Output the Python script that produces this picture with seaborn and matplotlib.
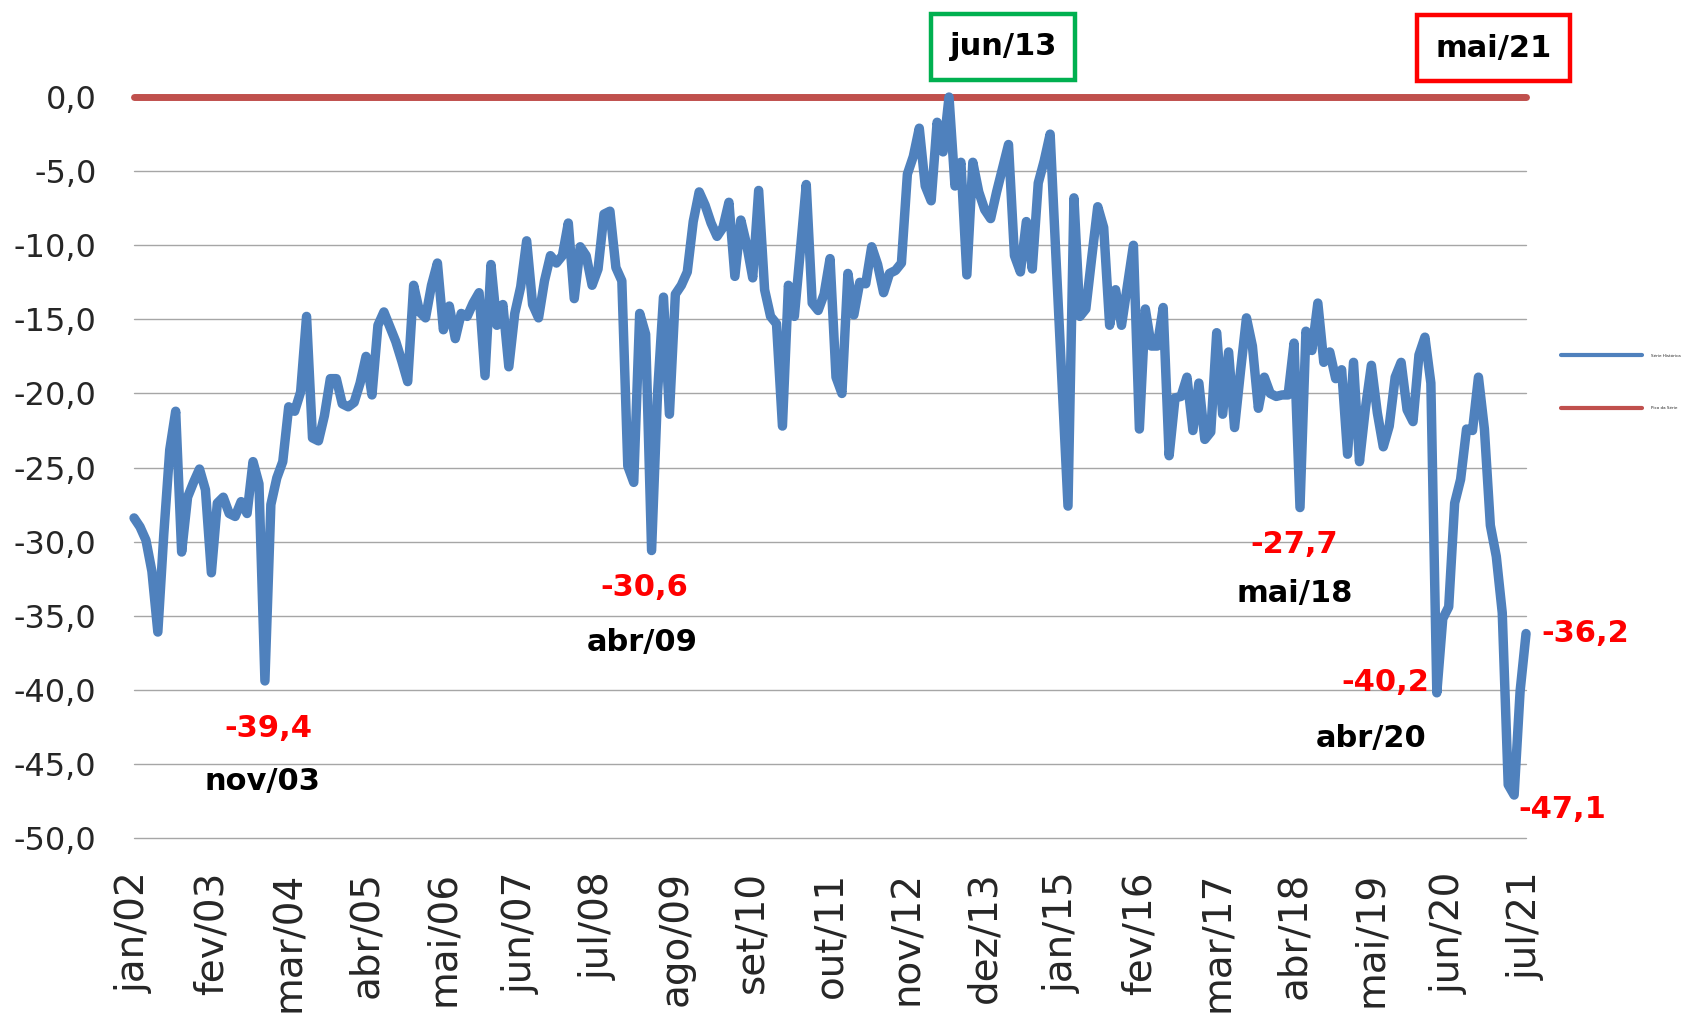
import numpy as np
import pandas as pd
import seaborn as sns
import matplotlib.pyplot as plt

# monthly series jan/02 .. jul/21
serie = [
    -28.4, -29.0, -29.9, -32.0, -36.1, -29.5, -23.8, -21.2, -30.7, -27.0,
    -26.0, -25.1, -26.5, -32.1, -27.4, -27.0, -28.1, -28.3, -27.3, -28.1,
    -24.6, -26.1, -39.4, -27.5, -25.7, -24.6, -20.9, -21.2, -19.9, -14.8,
    -23.0, -23.2, -21.5, -19.0, -19.0, -20.7, -20.9, -20.6, -19.3, -17.5,
    -20.1, -15.4, -14.5, -15.5, -16.5, -17.8, -19.2, -12.7, -14.5, -14.9,
    -12.7, -11.2, -15.7, -14.1, -16.3, -14.6, -14.8, -13.9, -13.2, -18.8,
    -11.3, -15.4, -14.0, -18.2, -14.6, -12.8, -9.7, -14.0, -14.9, -12.4,
    -10.7, -11.2, -10.7, -8.5, -13.6, -10.1, -10.7, -12.7, -11.6, -7.9,
    -7.7, -11.5, -12.4, -24.9, -26.0, -14.6, -16.0, -30.6, -20.0, -13.5,
    -21.4, -13.3, -12.7, -11.8, -8.4, -6.4, -7.3, -8.5, -9.4, -8.8,
    -7.1, -12.1, -8.3, -10.0, -12.2, -6.3, -13.0, -14.8, -15.3, -22.2,
    -12.7, -14.8, -10.4, -5.9, -13.9, -14.4, -13.3, -10.9, -18.9, -20.0,
    -11.9, -14.7, -12.5, -12.6, -10.1, -11.3, -13.2, -11.9, -11.7, -11.2,
    -5.2, -4.0, -2.1, -6.0, -7.0, -1.7, -3.7, 0.0, -6.0, -4.4,
    -12.0, -4.4, -6.4, -7.6, -8.2, -6.4, -4.8, -3.2, -10.7, -11.8,
    -8.4, -11.6, -5.8, -4.3, -2.5, -11.0, -19.3, -27.6, -6.8, -14.8,
    -14.3, -10.8, -7.4, -8.8, -15.4, -13.0, -15.4, -12.7, -10.0, -22.4,
    -14.3, -16.8, -16.8, -14.2, -24.2, -20.3, -20.2, -18.9, -22.5, -19.3,
    -23.1, -22.6, -15.9, -21.4, -17.2, -22.3, -18.5, -14.9, -16.8, -21.0,
    -18.9, -20.0, -20.2, -20.1, -20.1, -16.6, -27.7, -15.8, -17.1, -13.9,
    -17.9, -17.2, -19.0, -18.4, -24.1, -17.9, -24.6, -21.0, -18.1, -21.3,
    -23.6, -22.2, -18.9, -17.9, -21.1, -21.9, -17.4, -16.2, -19.3, -40.2,
    -35.2, -34.4, -27.4, -25.8, -22.4, -22.5, -18.9, -22.4, -28.9, -31.0,
    -34.8, -46.4, -47.1, -40.1, -36.2,
]
meses = ['jan', 'fev', 'mar', 'abr', 'mai', 'jun',
         'jul', 'ago', 'set', 'out', 'nov', 'dez']
datas = pd.date_range('2002-01-01', periods=len(serie), freq='MS')
rotulos = [f'{meses[d.month - 1]}/{d.year % 100:02d}' for d in datas]
pico = [0.0] * len(serie)

# annotations: (text, x month index, y value, colour)
notas = [
    ('-39,4', 22.6, -42.6, 'red'), ('nov/03', 21.5, -46.2, 'black'),
    ('-30,6', 85.8, -33.1, 'red'), ('abr/09', 85.5, -36.8, 'black'),
    ('-27,7', 195.0, -30.2, 'red'), ('mai/18', 195.1, -33.5, 'black'),
    ('-40,2', 210.4, -39.5, 'red'), ('abr/20', 207.9, -43.3, 'black'),
    ('-36,2', 243.9, -36.2, 'red'), ('-47,1', 240.1, -48.1, 'red'),
]
caixas = [('jun/13', 146.1, 3.4, '#00B050'), ('mai/21', 228.5, 3.3, '#FF0000')]

df = pd.DataFrame({'t': np.arange(len(serie)), 'serie': serie, 'pico': pico})

sns.set_theme(style='white')
plt.rcParams['font.family'] = ['DejaVu Sans']

fig = plt.figure(figsize=(16.84, 10.24), dpi=100)
ax = fig.add_axes([0.0796, 0.1816, 0.8266, 0.7236])

# grid
for v in range(-5, -55, -5):
    ax.axhline(v, color='#A6A6A6', lw=1.0, zorder=0, clip_on=False)

sns.lineplot(data=df, x='t', y='pico', ax=ax, color='#C0504D', lw=5,
             label='Pico da Série', clip_on=False, zorder=2)
sns.lineplot(data=df, x='t', y='serie', ax=ax, color='#4F81BD', lw=6.8,
             label='Série Histórica', clip_on=False, zorder=3,
             solid_joinstyle='round')

ax.set_xlim(0, len(serie) - 1)
ax.set_ylim(-50, 0)
ax.set_xlabel('')
ax.set_ylabel('')
for s in ax.spines.values():
    s.set_visible(False)

ticks = np.arange(0, len(serie), 13)
ax.set_xticks(ticks)
ax.set_xticklabels([rotulos[i] for i in ticks], rotation=90, fontsize=28)
ax.set_yticks(np.arange(0, -55, -5))
ax.set_yticklabels([f'{v:.1f}'.replace('.', ',') for v in np.arange(0, -55, -5)],
                   fontsize=23)
ax.tick_params(axis='x', length=0, pad=24)
ax.tick_params(axis='y', length=0, pad=27)

for txt, x, y, c in notas:
    ax.text(x, y, txt, color=c, fontsize=22, fontweight='bold',
            ha='center', va='center', clip_on=False)
for txt, x, y, c in caixas:
    ax.text(x, y, txt, color='black', fontsize=22, fontweight='bold',
            ha='center', va='center', clip_on=False,
            bbox=dict(boxstyle='square,pad=0.6', fc='white', ec=c, lw=3.2))

h, l = ax.get_legend_handles_labels()
leg = ax.legend(h[::-1], l[::-1], loc='center left', bbox_to_anchor=(0.927, 0.627),
                bbox_transform=fig.transFigure, frameon=False, fontsize=3,
                handlelength=19.4, handletextpad=2.2, labelspacing=11.7,
                borderpad=0, borderaxespad=0)
for line in leg.get_lines():
    line.set_linewidth(3)

fig.savefig('out.png', dpi=100)
